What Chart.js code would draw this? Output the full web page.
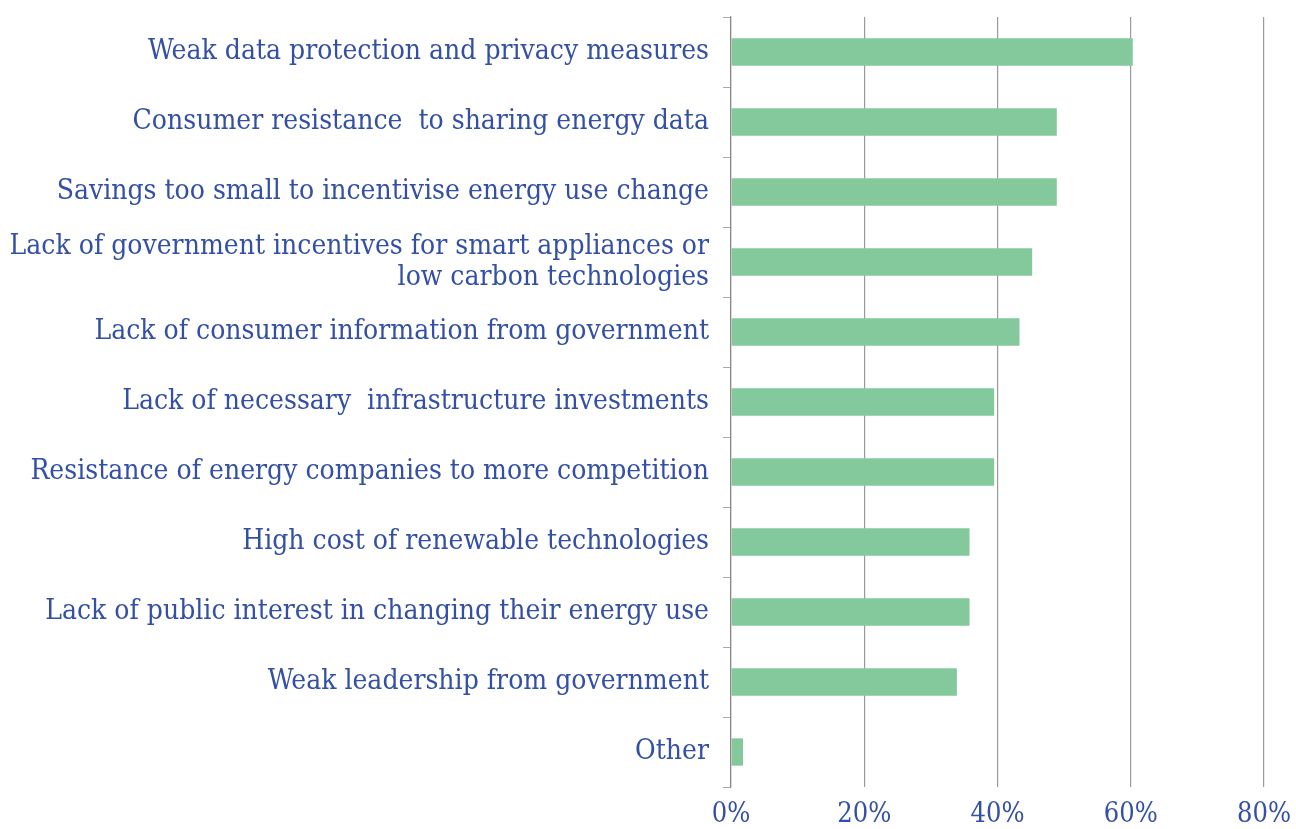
<!DOCTYPE html>
<html>
<head>
<meta charset="utf-8">
<script src="https://cdn.jsdelivr.net/npm/chart.js@4"></script>
<style>
  html, body { margin: 0; padding: 0; background: #fff; }
  #wrap { width: 1296px; height: 829px; }
</style>
</head>
<body>
<div id="wrap"><canvas id="c" width="1296" height="829"></canvas></div>
<script>
const categories = [
  "Weak data protection and privacy measures",
  "Consumer resistance  to sharing energy data",
  "Savings too small to incentivise energy use change",
  ["Lack of government incentives for smart appliances or", "low carbon technologies"],
  "Lack of consumer information from government",
  "Lack of necessary  infrastructure investments",
  "Resistance of energy companies to more competition",
  "High cost of renewable technologies",
  "Lack of public interest in changing their energy use",
  "Weak leadership from government",
  "Other"
];
const values = [60.3, 48.9, 48.9, 45.2, 43.3, 39.5, 39.5, 35.8, 35.8, 33.9, 1.8];
const xTicks = [0, 20, 40, 60, 80];

const textColor = '#3350A6';
const fontFamily = '"DejaVu Serif Condensed", "DejaVu Serif", serif';

new Chart(document.getElementById('c'), {
  type: 'bar',
  data: {
    labels: categories,
    datasets: [{
      data: values,
      backgroundColor: '#84C99B',
      borderWidth: 0,
      barPercentage: 0.39,
      categoryPercentage: 1.0
    }]
  },
  options: {
    indexAxis: 'y',
    responsive: false,
    animation: false,
    layout: { padding: { top: 17, right: 32, bottom: 0, left: 0 } },
    plugins: { legend: { display: false }, tooltip: { enabled: false } },
    scales: {
      x: {
        min: 0, max: 80,
        afterBuildTicks: (s) => { s.ticks = xTicks.map(v => ({ value: v })); },
        afterFit: (s) => { s.height = 42; s.paddingLeft = 0; s.paddingRight = 0; },
        grid: { color: '#9a9a9a', lineWidth: 1.2, drawTicks: false },
        border: { display: false },
        ticks: {
          padding: 12,
          color: textColor,
          font: { family: fontFamily, size: 27 },
          callback: (v) => v + '%'
        }
      },
      y: {
        afterFit: (s) => { s.width = 731; s.paddingTop = 0; s.paddingBottom = 0; },
        grid: { drawOnChartArea: false, drawTicks: true, tickLength: 8, color: '#aaaaaa', offset: true },
        border: { display: true, color: '#888888', width: 1.2 },
        ticks: {
          padding: 14,
          color: textColor,
          font: { family: fontFamily, size: 28, lineHeight: 1.1 },
          autoSkip: false
        }
      }
    }
  }
});
</script>
</body>
</html>
